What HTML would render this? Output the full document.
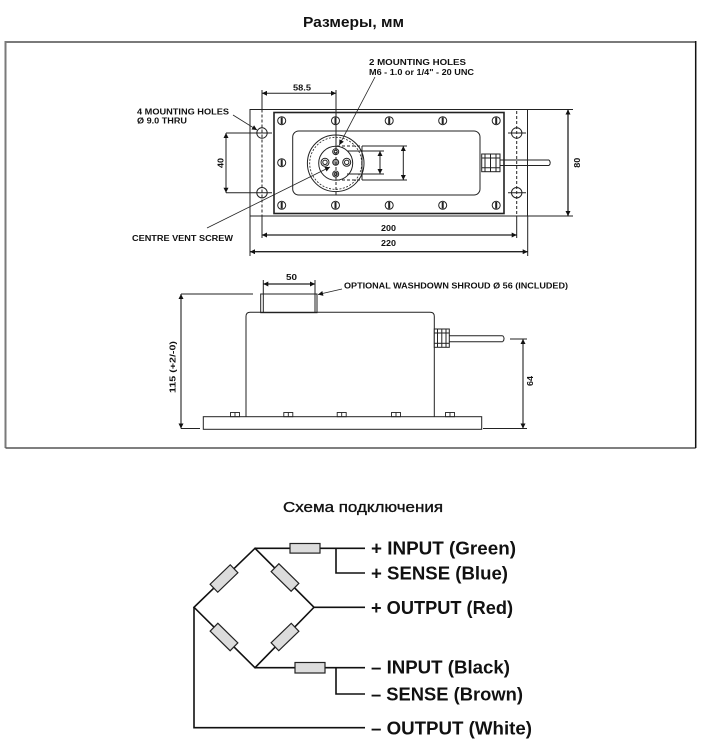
<!DOCTYPE html>
<html>
<head>
<meta charset="utf-8">
<style>
  html,body{margin:0;padding:0;background:#fff;}
  svg{display:block;}
  text{font-family:"Liberation Sans","Noto Sans CJK SC",sans-serif;}
</style>
</head>
<body>
<svg width="706" height="750" viewBox="0 0 706 750" xmlns="http://www.w3.org/2000/svg">
  <defs>
    <marker id="a" viewBox="0 0 10 10" refX="10" refY="5" markerWidth="7" markerHeight="5" markerUnits="userSpaceOnUse" orient="auto-start-reverse">
      <path d="M0,0L10,5L0,10z" fill="#111"/>
    </marker>
  </defs>
  <rect width="706" height="750" fill="#fff"/>

  <!-- Title -->
  <text x="303" y="27" font-size="15" font-weight="bold" fill="#111" textLength="101" lengthAdjust="spacingAndGlyphs">Размеры, мм</text>

  <!-- Frame -->
  <path d="M5.5,448 V42 H695.7" fill="none" stroke="#7a7a7a" stroke-width="2"/>
  <path d="M5.5,448 H695.7" fill="none" stroke="#555" stroke-width="1.5"/>
  <path d="M695.7,41 V448" fill="none" stroke="#111" stroke-width="1.5"/>

  <g stroke="#222" fill="none" stroke-width="1">
    <!-- ===== TOP VIEW ===== -->
    <rect x="250" y="109.5" width="277.5" height="106.5"/>
    <rect x="274" y="112.5" width="230" height="101" stroke-width="1.6"/>
    <rect x="292.7" y="131" width="187.3" height="64" rx="6"/>

    <!-- dashed hole center lines -->
    <line x1="262" y1="90" x2="262" y2="109.5"/>
    <line x1="262" y1="109.5" x2="262" y2="216" stroke-dasharray="3,2"/>
    <line x1="262" y1="216" x2="262" y2="238"/>
    <line x1="516.7" y1="111" x2="516.7" y2="216" stroke-dasharray="3,2"/>
    <line x1="516.7" y1="216" x2="516.7" y2="238"/>

    <!-- holes -->
    <circle cx="262" cy="133" r="5.2"/>
    <circle cx="262" cy="192.7" r="5.2"/>
    <circle cx="516.7" cy="133" r="5.2"/>
    <circle cx="516.7" cy="192.7" r="5.2"/>
    <line x1="226" y1="133" x2="272" y2="133"/>
    <line x1="226" y1="192.7" x2="272" y2="192.7"/>
    <line x1="508" y1="133" x2="526" y2="133"/>
    <line x1="508" y1="192.7" x2="526" y2="192.7"/>

    <!-- screws -->
    <g stroke-width="1">
      <circle cx="281.7" cy="120.7" r="4"/><line x1="281.7" y1="117.5" x2="281.7" y2="124" stroke-width="2"/>
      <circle cx="335.5" cy="120.7" r="4"/><line x1="335.5" y1="117.5" x2="335.5" y2="124" stroke-width="2"/>
      <circle cx="389.2" cy="120.7" r="4"/><line x1="389.2" y1="117.5" x2="389.2" y2="124" stroke-width="2"/>
      <circle cx="442.7" cy="120.7" r="4"/><line x1="442.7" y1="117.5" x2="442.7" y2="124" stroke-width="2"/>
      <circle cx="496.2" cy="120.7" r="4"/><line x1="496.2" y1="117.5" x2="496.2" y2="124" stroke-width="2"/>
      <circle cx="281.7" cy="205.3" r="4"/><line x1="281.7" y1="202" x2="281.7" y2="208.5" stroke-width="2"/>
      <circle cx="335.5" cy="205.3" r="4"/><line x1="335.5" y1="202" x2="335.5" y2="208.5" stroke-width="2"/>
      <circle cx="389.2" cy="205.3" r="4"/><line x1="389.2" y1="202" x2="389.2" y2="208.5" stroke-width="2"/>
      <circle cx="442.7" cy="205.3" r="4"/><line x1="442.7" y1="202" x2="442.7" y2="208.5" stroke-width="2"/>
      <circle cx="496.2" cy="205.3" r="4"/><line x1="496.2" y1="202" x2="496.2" y2="208.5" stroke-width="2"/>
      <circle cx="281.7" cy="162.7" r="4"/><line x1="281.7" y1="159.5" x2="281.7" y2="166" stroke-width="2"/>
    </g>

    <!-- load button -->
    <circle cx="335.7" cy="163.3" r="28.3"/>
    <circle cx="335.7" cy="163.3" r="26" stroke-dasharray="2,1.5" stroke-width="0.8"/>
    <circle cx="335.7" cy="163.3" r="17"/>
    <circle cx="325" cy="162.3" r="4"/><circle cx="325" cy="162.3" r="2.2"/>
    <circle cx="346.7" cy="162.3" r="4"/><circle cx="346.7" cy="162.3" r="2.2"/>
    <circle cx="335.7" cy="162.3" r="3" fill="#999"/>
    <circle cx="335.7" cy="151.7" r="3"/><circle cx="335.7" cy="151.7" r="1.5"/>
    <circle cx="335.7" cy="174" r="3"/><circle cx="335.7" cy="174" r="1.5"/>
    <line x1="336" y1="90" x2="336" y2="147"/>
    <line x1="336" y1="147" x2="336" y2="196" stroke-dasharray="3,2"/>

    <!-- brackets for thread depth -->
    <line x1="337" y1="146" x2="362" y2="146" stroke-dasharray="3,2"/>
    <line x1="337" y1="180" x2="362" y2="180" stroke-dasharray="3,2"/>
    <line x1="362" y1="146" x2="362" y2="180"/>
    <line x1="362" y1="146" x2="407" y2="146"/>
    <line x1="362" y1="180" x2="407" y2="180"/>
    <line x1="347" y1="151" x2="384" y2="151"/>
    <line x1="347" y1="174" x2="384" y2="174"/>
    <line x1="380" y1="151" x2="380" y2="174" marker-start="url(#a)" marker-end="url(#a)"/>
    <line x1="403.3" y1="146" x2="403.3" y2="180" marker-start="url(#a)" marker-end="url(#a)"/>

    <!-- cable gland top -->
    <rect x="481.7" y="154" width="18.3" height="17.7" fill="#fff"/>
    <line x1="485" y1="154" x2="485" y2="171.7"/>
    <line x1="490.5" y1="154" x2="490.5" y2="171.7"/>
    <line x1="496" y1="154" x2="496" y2="171.7"/>
    <line x1="481.7" y1="158" x2="500" y2="158"/>
    <line x1="481.7" y1="167.7" x2="500" y2="167.7"/>
    <path d="M500,160 H549 M500,165.5 H549"/>
    <path d="M549,160 Q551.5,162.75 549,165.5"/>

    <!-- dims top view -->
    <line x1="262" y1="93.3" x2="336" y2="93.3" marker-start="url(#a)" marker-end="url(#a)"/>
    <line x1="226" y1="133" x2="226" y2="192.7" marker-start="url(#a)" marker-end="url(#a)"/>
    <line x1="528" y1="109.5" x2="573" y2="109.5"/>
    <line x1="528" y1="216" x2="573" y2="216"/>
    <line x1="568" y1="109.5" x2="568" y2="216" marker-start="url(#a)" marker-end="url(#a)" stroke-width="1.3"/>
    <line x1="262" y1="235" x2="516.7" y2="235" marker-start="url(#a)" marker-end="url(#a)" stroke-width="1.3"/>
    <line x1="250" y1="216" x2="250" y2="256"/>
    <line x1="527.7" y1="216" x2="527.7" y2="256"/>
    <line x1="250" y1="251.7" x2="527.7" y2="251.7" marker-start="url(#a)" marker-end="url(#a)" stroke-width="1.3"/>

    <!-- leaders top view -->
    <line x1="375" y1="77" x2="339.3" y2="145" stroke-width="0.8" marker-end="url(#a)"/>
    <line x1="233" y1="115" x2="257" y2="130" stroke-width="0.8" marker-end="url(#a)"/>
    <line x1="207" y1="228" x2="330" y2="167" stroke-width="0.8" marker-end="url(#a)"/>

    <!-- ===== SIDE VIEW ===== -->
    <rect x="203.3" y="416.7" width="278.4" height="12.6"/>
    <path d="M246,416.7 V316.5 Q246,312.3 250.2,312.3 H430.1 Q434.3,312.3 434.3,316.5 V416.7"/>
    <rect x="260.7" y="294" width="56.3" height="18.7"/>
    <line x1="263.3" y1="294" x2="263.3" y2="312.7"/>
    <line x1="315" y1="294" x2="315" y2="312.7"/>
    <!-- bolt heads -->
    <g stroke-width="0.9">
      <rect x="230.5" y="412.5" width="9" height="4.2"/><line x1="235" y1="412.5" x2="235" y2="416.7"/>
      <rect x="283.8" y="412.5" width="9" height="4.2"/><line x1="288.3" y1="412.5" x2="288.3" y2="416.7"/>
      <rect x="337.2" y="412.5" width="9" height="4.2"/><line x1="341.7" y1="412.5" x2="341.7" y2="416.7"/>
      <rect x="391.5" y="412.5" width="9" height="4.2"/><line x1="396" y1="412.5" x2="396" y2="416.7"/>
      <rect x="445.5" y="412.5" width="9" height="4.2"/><line x1="450" y1="412.5" x2="450" y2="416.7"/>
    </g>
    <!-- side gland -->
    <rect x="434.3" y="329" width="15" height="18.3" fill="#fff"/>
    <line x1="437.5" y1="329" x2="437.5" y2="347.3"/>
    <line x1="441.8" y1="329" x2="441.8" y2="347.3"/>
    <line x1="446" y1="329" x2="446" y2="347.3"/>
    <line x1="434.3" y1="333" x2="449.3" y2="333"/>
    <line x1="434.3" y1="343.3" x2="449.3" y2="343.3"/>
    <path d="M449.3,335.7 H502.7 M449.3,341.7 H502.7"/>
    <path d="M502.7,335.7 Q505.5,338.7 502.7,341.7"/>

    <!-- side dims -->
    <line x1="263.3" y1="280" x2="263.3" y2="294"/>
    <line x1="315" y1="280" x2="315" y2="294"/>
    <line x1="263.3" y1="284" x2="315" y2="284" marker-start="url(#a)" marker-end="url(#a)" stroke-width="1.2"/>
    <line x1="181" y1="294" x2="253" y2="294"/>
    <line x1="181" y1="428.5" x2="200" y2="428.5"/>
    <line x1="181" y1="294" x2="181" y2="428.5" marker-start="url(#a)" marker-end="url(#a)" stroke-width="1.1"/>
    <line x1="510" y1="339" x2="527" y2="339"/>
    <line x1="483" y1="428.5" x2="527" y2="428.5"/>
    <line x1="523" y1="339" x2="523" y2="428.5" marker-start="url(#a)" marker-end="url(#a)" stroke-width="1.1"/>
    <line x1="342" y1="289" x2="318" y2="294.5" stroke-width="0.8" marker-end="url(#a)"/>
  </g>

  <!-- drawing labels -->
  <g font-size="8" font-weight="bold" fill="#111">
    <text x="369" y="65" textLength="97" lengthAdjust="spacingAndGlyphs">2 MOUNTING HOLES</text>
    <text x="369" y="75" textLength="105" lengthAdjust="spacingAndGlyphs">M6 - 1.0 or 1/4" - 20 UNC</text>
    <text x="293" y="90.5" textLength="18" lengthAdjust="spacingAndGlyphs">58.5</text>
    <text x="137" y="114.5" textLength="92" lengthAdjust="spacingAndGlyphs">4 MOUNTING HOLES</text>
    <text x="137" y="123.5" textLength="50" lengthAdjust="spacingAndGlyphs">Ø 9.0 THRU</text>
    <text x="132" y="241" textLength="101" lengthAdjust="spacingAndGlyphs">CENTRE VENT SCREW</text>
    <text x="381" y="231" textLength="15" lengthAdjust="spacingAndGlyphs">200</text>
    <text x="381" y="246" textLength="15" lengthAdjust="spacingAndGlyphs">220</text>
    <text transform="translate(223.5,163) rotate(-90)" text-anchor="middle" textLength="10" lengthAdjust="spacingAndGlyphs">40</text>
    <text transform="translate(580,162.7) rotate(-90)" text-anchor="middle" textLength="10" lengthAdjust="spacingAndGlyphs">80</text>
    <text x="286" y="280" textLength="11" lengthAdjust="spacingAndGlyphs">50</text>
    <text x="344" y="288.5" textLength="224" lengthAdjust="spacingAndGlyphs">OPTIONAL WASHDOWN SHROUD Ø 56 (INCLUDED)</text>
    <text transform="translate(175.5,367) rotate(-90)" text-anchor="middle" textLength="52" lengthAdjust="spacingAndGlyphs">115 (+2/-0)</text>
    <text transform="translate(533,381) rotate(-90)" text-anchor="middle" textLength="10" lengthAdjust="spacingAndGlyphs">64</text>
  </g>

  <!-- ===== WIRING ===== -->
  <text x="283" y="512" font-size="15" fill="#111" stroke="#111" stroke-width="0.35" textLength="160" lengthAdjust="spacingAndGlyphs">Схема подключения</text>

  <g stroke="#111" stroke-width="1.6" fill="none">
    <path d="M255,548.3 L194,607.3 L255,667.7 L314,607.3 Z"/>
    <line x1="255" y1="548.3" x2="365" y2="548.3"/>
    <path d="M336,548.3 V573 H365"/>
    <line x1="314" y1="607.3" x2="365" y2="607.3"/>
    <line x1="255" y1="667.7" x2="365" y2="667.7"/>
    <path d="M336,667.7 V694 H365"/>
    <path d="M194,607.3 V727.7 H365"/>
  </g>
  <g fill="#dcdcdc" stroke="#222" stroke-width="1.2">
    <rect x="290" y="543.5" width="30" height="9.6"/>
    <rect x="295" y="662.5" width="30" height="10.5"/>
    <rect x="-14" y="-5.5" width="28" height="11" transform="translate(224,578.5) rotate(-44)"/>
    <rect x="-14" y="-5.5" width="28" height="11" transform="translate(285,577.5) rotate(44.5)"/>
    <rect x="-14" y="-5.5" width="28" height="11" transform="translate(224,637) rotate(44.5)"/>
    <rect x="-14" y="-5.5" width="28" height="11" transform="translate(285,637) rotate(-44)"/>
  </g>

  <g font-size="18.5" font-weight="bold" fill="#111">
    <text x="371" y="554.5" textLength="145" lengthAdjust="spacingAndGlyphs">+ INPUT (Green)</text>
    <text x="371" y="579.6" textLength="137" lengthAdjust="spacingAndGlyphs">+ SENSE (Blue)</text>
    <text x="371" y="613.9" textLength="142" lengthAdjust="spacingAndGlyphs">+ OUTPUT (Red)</text>
    <text x="371" y="673.3" textLength="139" lengthAdjust="spacingAndGlyphs">– INPUT (Black)</text>
    <text x="371" y="700.6" textLength="152" lengthAdjust="spacingAndGlyphs">– SENSE (Brown)</text>
    <text x="371" y="734.3" textLength="161" lengthAdjust="spacingAndGlyphs">– OUTPUT (White)</text>
  </g>
</svg>
</body>
</html>
